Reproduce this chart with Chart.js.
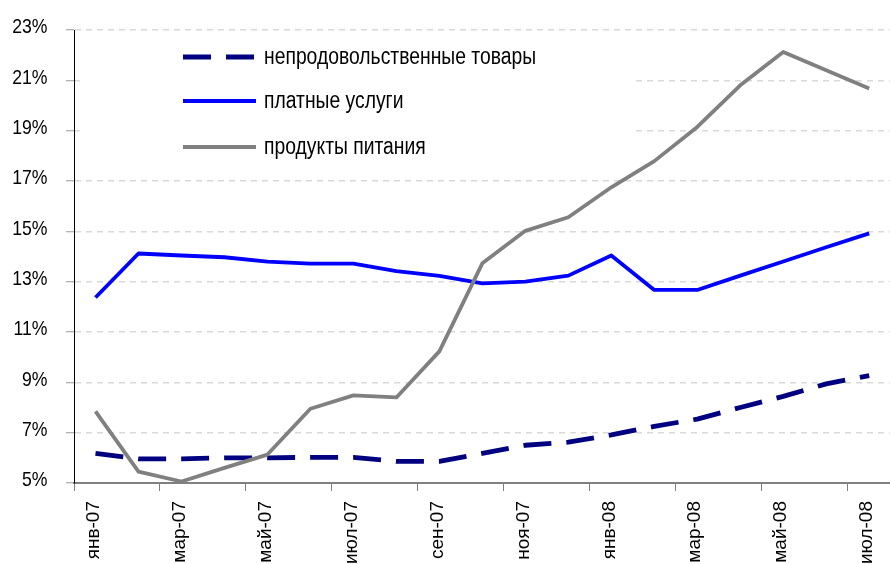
<!DOCTYPE html>
<html>
<head>
<meta charset="utf-8">
<script src="https://cdn.jsdelivr.net/npm/chart.js@4/dist/chart.umd.min.js"></script>
<style>
  html, body { margin: 0; padding: 0; background: #fff; overflow: hidden; }
  #wrap { position: relative; width: 902px; height: 600px; }
</style>
</head>
<body>
<div id="wrap"><canvas id="chart" width="902" height="600"></canvas></div>
<script>
// months, Jan 2007 .. Jul 2008
const months = ['янв-07', 'фев-07', 'мар-07', 'апр-07', 'май-07', 'июн-07', 'июл-07', 'авг-07', 'сен-07', 'окт-07',
                'ноя-07', 'дек-07', 'янв-08', 'фев-08', 'мар-08', 'апр-08', 'май-08', 'июн-08', 'июл-08'];

// y, %
const nonFood = [6.18, 5.96, 5.96, 6.0, 6.0, 6.02, 6.02, 5.86, 5.86, 6.18, 6.5, 6.62, 6.91, 7.25, 7.54, 8.0, 8.44, 8.94, 9.27];
const services = [12.37, 14.12, 14.04, 13.97, 13.8, 13.72, 13.72, 13.42, 13.23, 12.93, 13.0, 13.24, 14.04, 12.67, 12.67, 13.24, 13.8, 14.37, 14.92];
const food = [7.85, 5.45, 5.06, 5.6, 6.13, 7.95, 8.48, 8.4, 10.23, 13.73, 15.02, 15.56, 16.75, 17.79, 19.15, 20.8, 22.13, 21.4, 20.68];

const yMin = 5, yMax = 23, yStep = 2;

const FONT = "'Liberation Sans', Arial, sans-serif";
const SQUEEZE = 0.84; // the original text is narrow

// legend drawn inside the plot on a white box
const boxLegend = {
    id: 'boxLegend',
    beforeDatasetsDraw(chart) {
        const ctx = chart.ctx;
        ctx.save();
        ctx.fillStyle = '#fff';
        ctx.fillRect(80, 37, 552, 136);
        const rows = [57, 101, 147];
        chart.data.datasets.forEach((ds, i) => {
            const y = rows[i];
            ctx.beginPath();
            ctx.setLineDash(ds.borderDash || []);
            ctx.lineWidth = ds.borderWidth;
            ctx.strokeStyle = ds.borderColor;
            ctx.lineCap = 'butt';
            ctx.moveTo(183, y);
            ctx.lineTo(256, y);
            ctx.stroke();
            ctx.setLineDash([]);
            ctx.save();
            ctx.translate(264, y + 1);
            ctx.scale(SQUEEZE, 1);
            ctx.fillStyle = '#000';
            ctx.font = '23px ' + FONT;
            ctx.textBaseline = 'middle';
            ctx.textAlign = 'left';
            ctx.fillText(ds.label, 0, 0);
            ctx.restore();
        });
        ctx.restore();
    }
};

// narrow y tick labels, placed from the y scale
const yLabels = {
    id: 'yLabels',
    afterDraw(chart) {
        const ctx = chart.ctx;
        const ys = chart.scales.y;
        ctx.save();
        ctx.fillStyle = '#000';
        ctx.font = '21px ' + FONT;
        ctx.textAlign = 'right';
        ctx.textBaseline = 'middle';
        ys.ticks.forEach((t) => {
            ctx.save();
            ctx.translate(ys.right - 26.5, ys.getPixelForValue(t.value) - 2.5);
            ctx.scale(SQUEEZE, 1);
            ctx.fillText(t.value + '%', 0, 0);
            ctx.restore();
        });
        ctx.restore();
    }
};

new Chart(document.getElementById('chart'), {
    type: 'line',
    data: {
        labels: months,
        datasets: [
            {
                label: 'непродовольственные товары',
                data: nonFood,
                borderColor: '#000080',
                borderWidth: 4.8,
                borderDash: [28, 15],
                order: 2
            },
            {
                label: 'платные услуги',
                data: services,
                borderColor: '#0000FF',
                borderWidth: 3.8,
                order: 1
            },
            {
                label: 'продукты питания',
                data: food,
                borderColor: '#808080',
                borderWidth: 3.8,
                order: 0
            }
        ]
    },
    options: {
        responsive: false,
        animation: false,
        devicePixelRatio: 1,
        layout: { padding: { top: 30, left: 0, right: 0, bottom: 0 } },
        elements: {
            point: { radius: 0 },
            line: { tension: 0, borderJoinStyle: 'round', fill: false }
        },
        plugins: {
            legend: { display: false },
            tooltip: { enabled: false }
        },
        scales: {
            x: {
                offset: true,
                afterFit: (scale) => { scale.height = 117; },
                grid: {
                    offset: true,
                    drawOnChartArea: false,
                    tickLength: 8,
                    color: (c) => (c.index % 2 === 0 ? '#808080' : 'rgba(0,0,0,0)')
                },
                border: { color: '#808080', width: 2 },
                ticks: {
                    autoSkip: false,
                    minRotation: 90,
                    maxRotation: 90,
                    padding: 10,
                    labelOffset: -2,
                    color: '#000',
                    font: { family: FONT, size: 19 },
                    callback: function (v, i) { return i % 2 === 0 ? this.getLabelForValue(v) : ''; }
                }
            },
            y: {
                min: yMin,
                max: yMax,
                afterFit: (scale) => { scale.width = 74; },
                grid: {
                    color: '#d9d9d9',
                    lineWidth: 1.5,
                    tickLength: 8,
                    tickColor: '#999999',
                    tickWidth: 1
                },
                border: { color: '#000', width: 1, dash: [6, 5] },
                ticks: {
                    display: false,
                    stepSize: yStep
                }
            }
        }
    },
    plugins: [boxLegend, yLabels]
});
</script>
</body>
</html>
